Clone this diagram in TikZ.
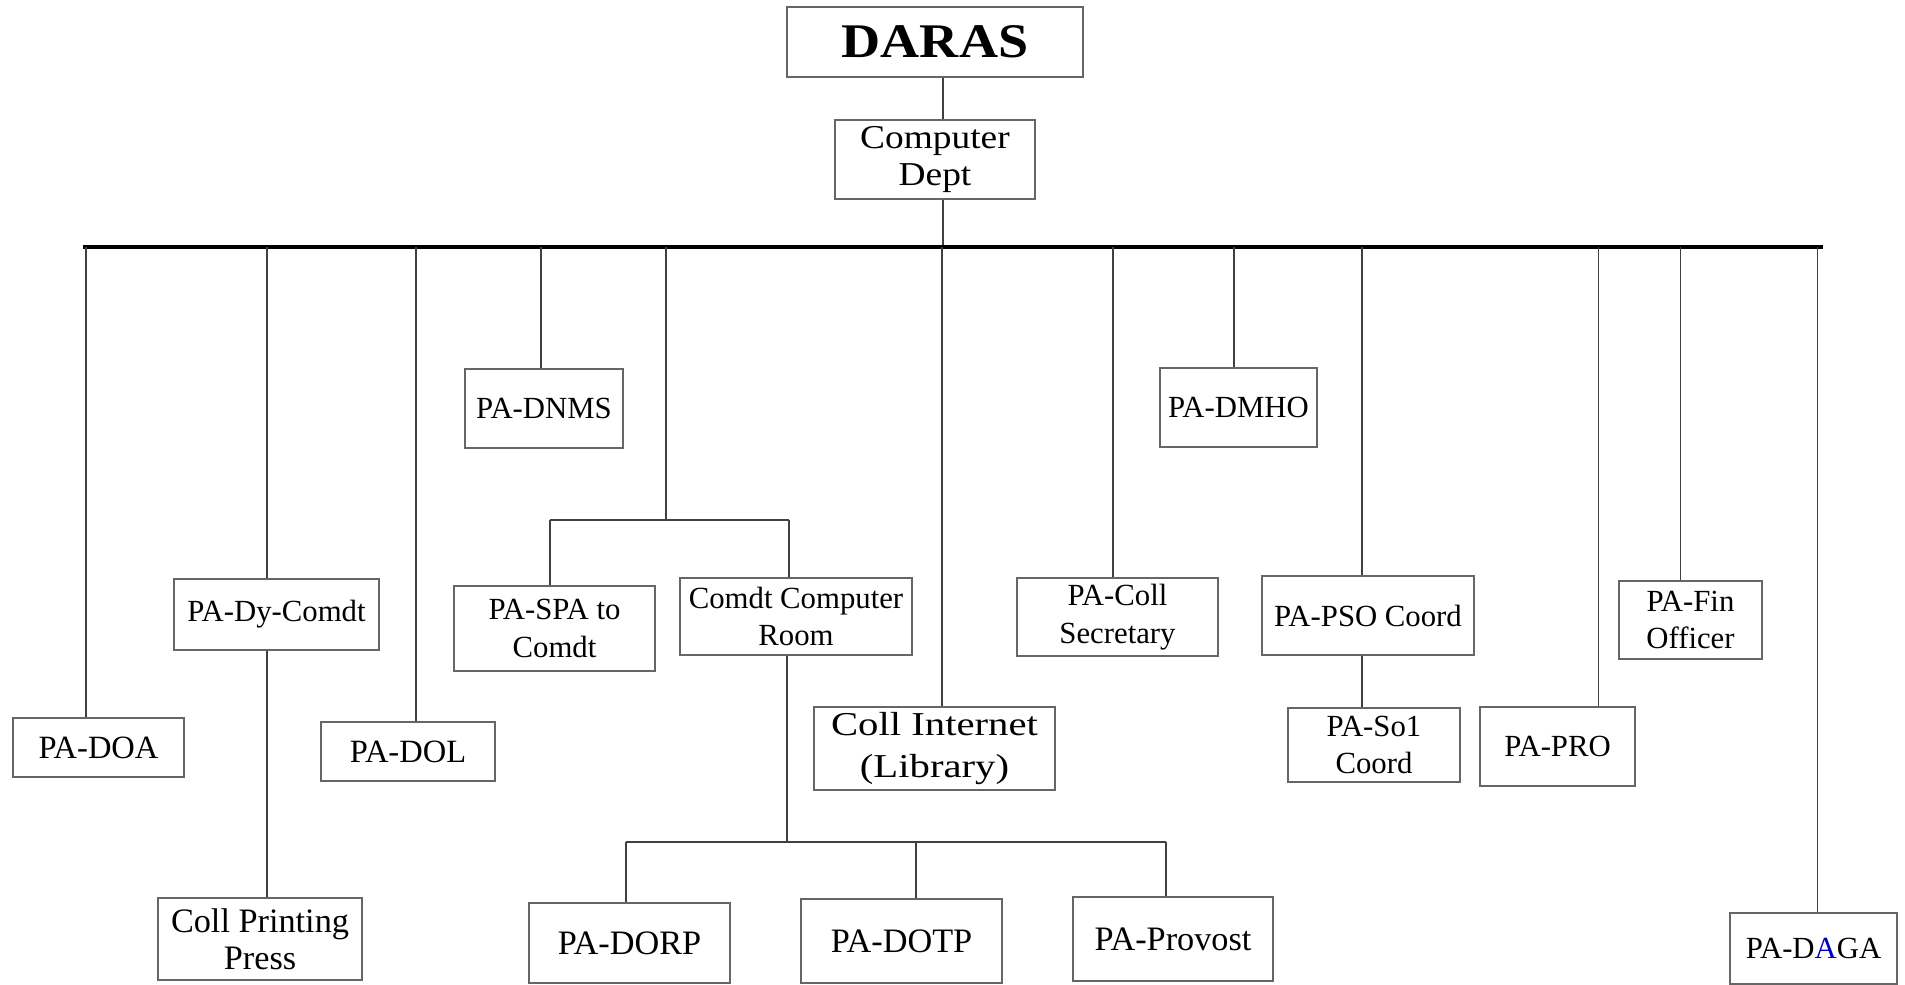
\documentclass[tikz,border=0pt]{standalone}
\usepackage{fontspec}
\setmainfont{Liberation Serif}
\newfontfamily\widefont{Liberation Serif}[FakeStretch=1.12]
\newfontfamily\widerfont{Liberation Serif}[FakeStretch=1.22]
\usepackage{xcolor}

\begin{document}
\begin{tikzpicture}[x=0.02cm, y=-0.02cm,
	box/.style={draw=black!60, line width=0.7pt, align=center, inner sep=0pt, font=\fontsize{17.5}{21.5}\selectfont},
	bigbox/.style={box, font=\fontsize{19.5}{21}\selectfont},
	link/.style={draw=black!75, line width=0.6pt},
	bus/.style={draw=black, line width=2.6pt}]
	
	\useasboundingbox (0,0) rectangle (1905,984);
	
	% head
	\node[box, minimum width=5.92cm, minimum height=1.40cm, font=\fontsize{27.5}{30}\widefont\bfseries] (daras) at (935,42) {DARAS};
	\node[box, minimum width=4.00cm, minimum height=1.58cm, font=\fontsize{19}{21}\widefont] (dept) at (935,159.5) {Computer\\Dept};
	
	% bus
	\coordinate (top) at (943,247);
	\coordinate (busL) at (83,247);
	\coordinate (busR) at (1823,247);
	\draw[link] (daras.south -| top) -- (dept.north -| top);
	\draw[link] (dept.south -| top) -- (top);
	\draw[bus] (busL) -- (busR);
	
	% drop points on the bus
	\coordinate (b1) at (86,247);
	\coordinate (b2) at (267,247);
	\coordinate (b3) at (416,247);
	\coordinate (b4) at (541,247);
	\coordinate (b5) at (666,247);
	\coordinate (b6) at (942,247);
	\coordinate (b7) at (1113,247);
	\coordinate (b8) at (1234,247);
	\coordinate (b9) at (1362,247);
	\coordinate (b10) at (1598,247);
	\coordinate (b11) at (1680,247);
	\coordinate (b12) at (1817,247);
	
	% upper row
	\node[box, minimum width=3.16cm, minimum height=1.58cm] (dnms) at (544,408.5) {PA-DNMS};
	\node[box, minimum width=3.14cm, minimum height=1.58cm] (dmho) at (1238.5,407.5) {PA-DMHO};
	
	% middle row
	\node[box, minimum width=4.10cm, minimum height=1.42cm] (dycomdt) at (276.5,614.5) {PA-Dy-Comdt};
	\node[box, minimum width=4.02cm, minimum height=1.70cm] (spa) at (554.5,628.5) {PA-SPA to\\Comdt};
	\node[box, minimum width=4.64cm, minimum height=1.54cm] (ccr) at (796,616.5) {Comdt Computer\\Room};
	\node[box, minimum width=4.02cm, minimum height=1.56cm] (collsec) at (1117.5,617) {PA-Coll\\Secretary};
	\node[box, minimum width=4.24cm, minimum height=1.58cm] (pso) at (1368,615.5) {PA-PSO Coord};
	\node[box, minimum width=2.86cm, minimum height=1.56cm] (fin) at (1690.5,620) {PA-Fin\\Officer};
	
	% lower row
	\node[box, minimum width=3.42cm, minimum height=1.18cm, font=\fontsize{18.5}{21}\selectfont] (doa) at (98.5,747.5) {PA-DOA};
	\node[box, minimum width=3.48cm, minimum height=1.18cm, font=\fontsize{18.5}{21}\selectfont] (dol) at (408,751.5) {PA-DOL};
	\node[box, minimum width=4.82cm, minimum height=1.66cm, font=\fontsize{19}{23.5}\widerfont] (internet) at (934.5,748.5) {Coll Internet\\(Library)};
	\node[box, minimum width=3.44cm, minimum height=1.48cm] (so1) at (1374,745) {PA-So1\\Coord};
	\node[box, minimum width=3.10cm, minimum height=1.58cm] (pro) at (1557.5,746.5) {PA-PRO};
	
	% bottom row
	\node[bigbox, minimum width=4.08cm, minimum height=1.64cm] (press) at (260,939) {Coll Printing\\Press};
	\node[bigbox, minimum width=4.02cm, minimum height=1.60cm] (dorp) at (629.5,943) {PA-DORP};
	\node[bigbox, minimum width=4.02cm, minimum height=1.68cm] (dotp) at (901.5,941) {PA-DOTP};
	\node[bigbox, minimum width=4.00cm, minimum height=1.68cm] (provost) at (1173,939) {PA-Provost};
	\node[box, minimum width=3.34cm, minimum height=1.42cm] (daga) at (1813.5,948.5) {PA-D\textcolor{blue!75!black}{A}GA};
	
	% drops from the bus
	\draw[link] (b1) -- (b1 |- doa.north);
	\draw[link] (b2) -- (b2 |- dycomdt.north);
	\draw[link] (b3) -- (b3 |- dol.north);
	\draw[link] (b4) -- (b4 |- dnms.north);
	\draw[link] (b6) -- (b6 |- internet.north);
	\draw[link] (b7) -- (b7 |- collsec.north);
	\draw[link] (b8) -- (b8 |- dmho.north);
	\draw[link] (b9) -- (b9 |- pso.north);
	\draw[link] (b10) -- (b10 |- pro.north);
	\draw[link] (b11) -- (b11 |- fin.north);
	\draw[link] (b12) -- (b12 |- daga.north);
	
	% split to SPA and computer room
	\coordinate (s1) at (666,520);
	\coordinate (s1L) at (550,520);
	\coordinate (s1R) at (789,520);
	\draw[link] (b5) -- (s1);
	\draw[link] (s1L) -- (s1R);
	\draw[link] (s1L) -- (s1L |- spa.north);
	\draw[link] (s1R) -- (s1R |- ccr.north);
	
	% computer room down to bottom row
	\coordinate (s2) at (787,842);
	\coordinate (s2L) at (626,842);
	\coordinate (s2M) at (916,842);
	\coordinate (s2R) at (1166,842);
	\draw[link] (ccr.south -| s2) -- (s2);
	\draw[link] (s2L) -- (s2R);
	\draw[link] (s2L) -- (s2L |- dorp.north);
	\draw[link] (s2M) -- (s2M |- dotp.north);
	\draw[link] (s2R) -- (s2R |- provost.north);
	
	% single children
	\draw[link] (b2 |- dycomdt.south) -- (b2 |- press.north);
	\draw[link] (b9 |- pso.south) -- (b9 |- so1.north);
	
\end{tikzpicture}
\end{document}
